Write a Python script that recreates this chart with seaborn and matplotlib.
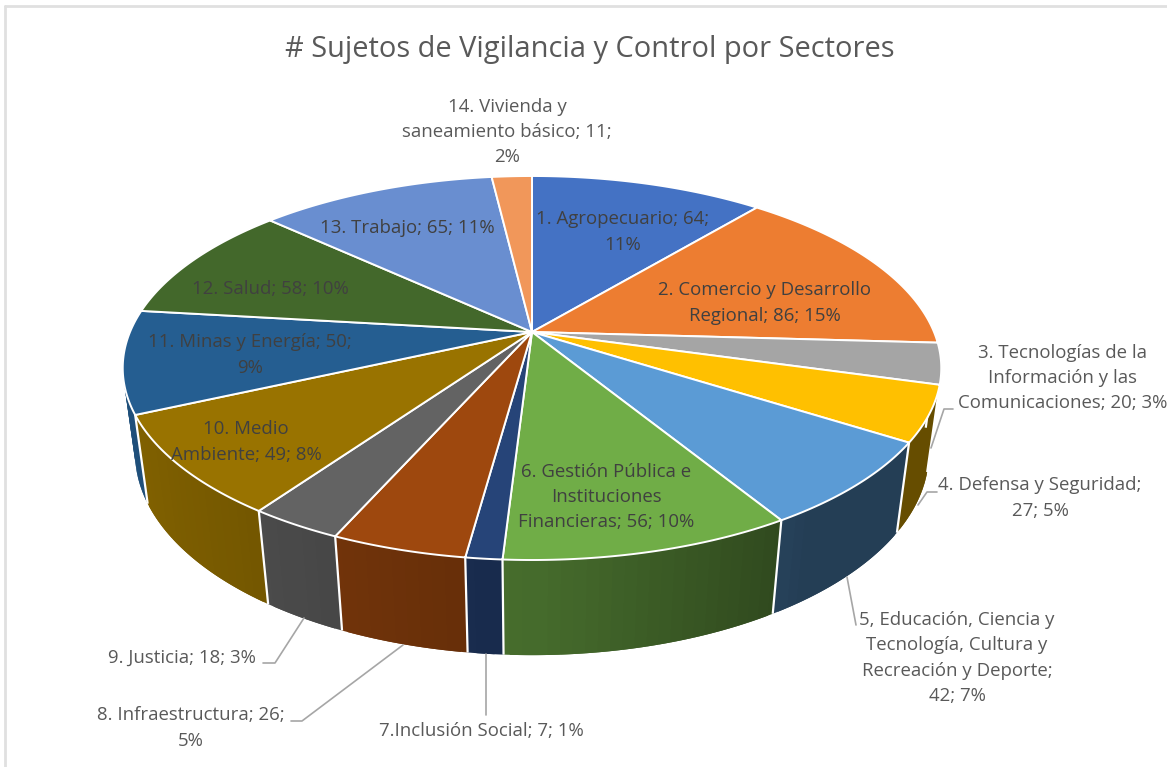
import numpy as np
import matplotlib
matplotlib.use('Agg')
import matplotlib.pyplot as plt
import seaborn as sns

# Data
sector_values = [64, 86, 20, 27, 42, 56, 7, 26, 18, 49, 50, 58, 65, 11]
sector_pct = [11, 15, 3, 5, 7, 10, 1, 5, 3, 8, 9, 10, 11, 2]
label_templates = [
    '1. Agropecuario; {v};\n{p}%',
    '2. Comercio y Desarrollo\nRegional; {v}; {p}%',
    '3. Tecnologías de la\nInformación y las\nComunicaciones; {v}; {p}%',
    '4. Defensa y Seguridad;\n{v}; {p}%',
    '5, Educación, Ciencia y\nTecnología, Cultura y\nRecreación y Deporte;\n{v}; {p}%',
    '6. Gestión Pública e\nInstituciones\nFinancieras; {v}; {p}%',
    '7.Inclusión Social; {v}; {p}%',
    '8. Infraestructura; {v};\n{p}%',
    '9. Justicia; {v}; {p}%',
    '10. Medio\nAmbiente; {v}; {p}%',
    '11. Minas y Energía; {v};\n{p}%',
    '12. Salud; {v}; {p}%',
    '13. Trabajo; {v}; {p}%',
    '14. Vivienda y\nsaneamiento básico; {v};\n{p}%',
]
sector_colors = ['#4472C4', '#ED7D31', '#A5A5A5', '#FFC000', '#5B9BD5', '#70AD47', '#264478',
                 '#9E480E', '#636363', '#997300', '#255E91', '#43682B', '#698ED0', '#F1975A']
title_text = '# Sujetos de Vigilancia y Control por Sectores'

# Layout of the labels and leader lines, in pixels of the picture
label_xy = [(623, 232), (765, 303), (1063, 378), (1040, 498), (957, 658), (606, 497), (481, 731),
            (191, 728), (182, 658), (246, 442), (250, 355), (270, 289), (407, 228), (507, 132)]
leaders = [[(953, 409), (944, 409), (931, 448)],
           [(937, 492), (927, 492), (918, 505)],
           [(856, 625), (847, 577)],
           [(486, 715), (486, 654)],
           [(291, 721), (302, 721), (403, 645)],
           [(263, 663), (275, 663), (304, 618)]]

# Perspective of the tilted disc
CX, CY = 532, 332
A, B, K = 402, 185.25, 0.1875
DEPTH, M = 87, 0.03


def project(theta, z=0.0, r=1.0):
    # theta is clockwise from 12 o'clock, z=1 is the underside of the disc
    x = r * np.sin(theta)
    y = r * np.cos(theta)
    w = 1 + K * y + M * z
    return CX + A * x / w, CY - (B * y - DEPTH * z) / w


def wall_shade(theta):
    # wall gets darker from left to right, flat once past the green slice
    x = np.sin(theta)
    if x < 0:
        return 0.62 - 0.24 * x
    return max(0.40, 0.62 - 0.38 * x)


sns.set_theme(style='white')
plt.rcParams['font.family'] = ['Open Sans', 'DejaVu Sans']
palette = sns.color_palette(sector_colors)

fig, ax = plt.subplots(figsize=(11.67, 7.67), dpi=100)
ax.set_position([0, 0, 1, 1])
ax.set_xlim(0, 1167)
ax.set_ylim(767, 0)
ax.axis('off')

edges = np.cumsum([0] + sector_values) / sum(sector_values) * 2 * np.pi

# Side wall first, back to front, in thin strips so the shading can run across it
strips = []
for i in range(len(sector_values)):
    t = np.linspace(edges[i], edges[i + 1], max(int((edges[i + 1] - edges[i]) * 40), 3))
    step = t[1] - t[0]
    for t0 in t[:-1]:
        strips.append((t0, t0 + step, i, step))
strips.sort(key=lambda s: -np.cos((s[0] + s[1]) / 2))
for t0, t1, i, step in strips:
    # each strip overlaps its neighbours a little so no seams show, but stays in its slice
    lo = max(t0 - 0.5 * step, edges[i])
    hi = min(t1 + 0.5 * step, edges[i + 1])
    t = np.linspace(lo, hi, 6)
    xa, ya = project(t)
    xb, yb = project(t[::-1], 1)
    c = np.array(palette[i]) * wall_shade((t0 + t1) / 2)
    ax.fill(np.r_[xa, xb], np.r_[ya, yb], color=c, lw=0, zorder=2)

# White joints on the visible part of the wall
for e in edges[:-1]:
    if np.cos(e) < 0.05:
        xs, ys = zip(project(e), project(e, 1))
        ax.plot(xs, ys, color='white', lw=1.6, zorder=3, solid_capstyle='butt')

# Top face
for i in range(len(sector_values)):
    t = np.linspace(edges[i], edges[i + 1], 200)
    x, y = project(t)
    ax.fill(np.r_[CX, x], np.r_[CY, y], facecolor=palette[i], edgecolor='white', lw=1.4,
            joinstyle='round', zorder=4)

# Leader lines
for pts in leaders:
    xs, ys = zip(*pts)
    ax.plot(xs, ys, color='#A6A6A6', lw=1.2, zorder=5)

inside = {0, 1, 5, 9, 10, 11, 12}
for i, tpl in enumerate(label_templates):
    txt = tpl.format(v=sector_values[i], p=sector_pct[i])
    ax.text(label_xy[i][0], label_xy[i][1], txt, ha='center', va='center', fontsize=13.4,
            color='#404040' if i in inside else '#595959', linespacing=1.53, zorder=6)

ax.text(590, 50, title_text, ha='center', va='center', fontsize=20.9, color='#595959', zorder=6)

# Grey frame remnants at the left and top of the screenshot
ax.plot([5, 5], [6, 767], color='#E0E0E0', lw=2, zorder=1)
ax.plot([5, 1167], [6, 6], color='#E0E0E0', lw=2, zorder=1)

fig.savefig('out.png', dpi=100, facecolor='white')
